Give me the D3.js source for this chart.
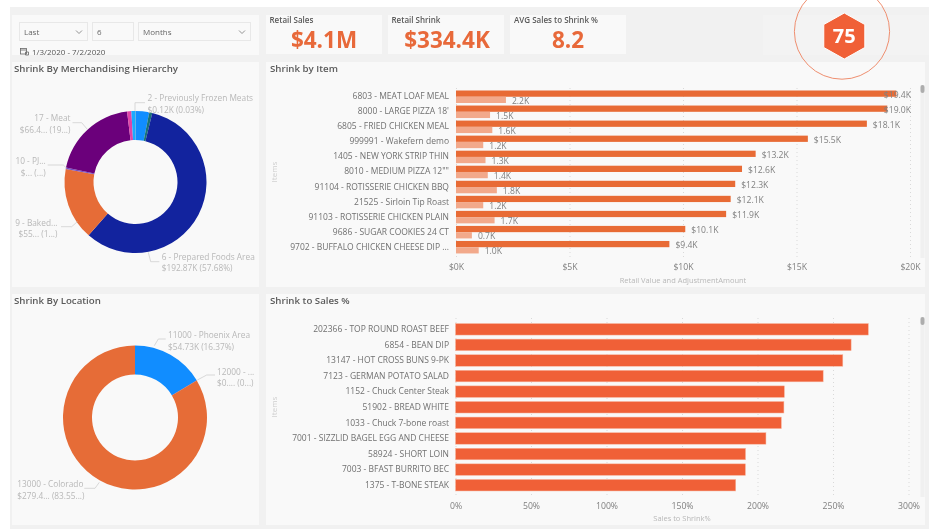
<!DOCTYPE html>
<html>
<head>
<meta charset="utf-8">
<script src="https://cdn.jsdelivr.net/npm/d3@7"></script>
<style>
  html, body { margin: 0; padding: 0; background: #fff; overflow: hidden; }
  svg { display: block; filter: blur(0.5px); }
  text { font-family: "Open Sans", sans-serif; }
</style>
</head>
<body>
<svg width="929" height="529"></svg>
<script>
// data
const itemNames = ['6803 - MEAT LOAF MEAL', "8000 - LARGE PIZZA 18'", '6805 - FRIED CHICKEN MEAL', '999991 - Wakefern demo',
    '1405 - NEW YORK STRIP THIN', '8010 - MEDIUM PIZZA 12""', '91104 - ROTISSERIE CHICKEN BBQ', '21525 - Sirloin Tip Roast',
    '91103 - ROTISSERIE CHICKEN PLAIN', '9686 - SUGAR COOKIES 24 CT', '9702 - BUFFALO CHICKEN CHEESE DIP ...'];
const retailValues = [19.4, 19.0, 18.1, 15.5, 13.2, 12.6, 12.3, 12.1, 11.9, 10.1, 9.4];
const adjustmentValues = [2.2, 1.5, 1.6, 1.2, 1.3, 1.4, 1.8, 1.2, 1.7, 0.7, 1.0];
const retailTicks = [0, 5, 10, 15, 20];

const pctNames = ['202366 - TOP ROUND ROAST BEEF', '6854 - BEAN DIP', '13147 - HOT CROSS BUNS 9-PK', '7123 - GERMAN POTATO SALAD',
    '1152 - Chuck Center Steak', '51902 - BREAD WHITE', '1033 - Chuck 7-bone roast', '7001 - SIZZLID BAGEL EGG AND CHEESE',
    '58924 - SHORT LOIN', '7003 - BFAST BURRITO BEC', '1375 - T-BONE STEAK'];
const pctValues = [273.4, 262, 256.5, 243.5, 217.8, 217.5, 215.8, 205.6, 192.1, 192, 185.6];
const pctTicks = [0, 50, 100, 150, 200, 250, 300];

const hierarchyValues = [10.4, 2.3, 192.87, 55.1, 1.0, 66.4, 3.2, 3.0, 0.12];
const hierarchyColors = ['#118dff', '#197278', '#12239e', '#e66c37', '#744ec2', '#6b007b', '#e044a7', '#1aabff', '#a08a60'];
const locationValues = [54.73, 0.09, 279.4];
const locationColors = ['#118dff', '#12239e', '#e66c37'];

const cardTitles = ['Retail Sales', 'Retail Shrink', 'AVG Sales to Shrink %'];
const cardValues = ['$4.1M', '$334.4K', '8.2'];

const svg = d3.select('svg');
const DARK = '#e86b35', LIGHT = '#f2a98b', HOT = '#f06037';
const GREY_TITLE = '#5a5a5a', GREY_TICK = '#808080', GREY_SOFT = '#b8b8b8', GREY_FAINT = '#cfcfcf';

//* page background and panels
const panel = (x, y, w, h, fill = '#f9f9f9') => svg.append('rect')
    .attr('x', x).attr('y', y).attr('width', w).attr('height', h).attr('fill', fill);

panel(10, 7, 919, 522, '#f1f1f1');
panel(12, 15, 247, 40);
panel(266, 15, 116, 39);
panel(388, 15, 116, 39);
panel(510, 15, 116, 39);
panel(763, 15, 166, 40, '#f3f3f3');
panel(12, 62, 247, 225);
panel(266, 62, 659, 225);
panel(12, 294, 247, 231);
panel(266, 294, 659, 231);

const label = (x, y, text, size, color, anchor = 'start', weight = 400) => svg.append('text')
    .attr('x', x).attr('y', y)
    .attr('dy', '0.35em')
    .attr('text-anchor', anchor)
    .style('font-size', `${size}px`)
    .style('font-weight', weight)
    .style('fill', color)
    .text(text);

//* filter controls
const dropdown = (x, w, text, chevron) => {
    svg.append('rect').attr('x', x + 0.5).attr('y', 22.5).attr('width', w).attr('height', 18)
        .attr('fill', 'none').attr('stroke', '#e8e8e8');
    label(x + 5, 32, text, 8, '#666');
    if (chevron) {
        svg.append('path')
            .attr('d', `M${x + w - 11},30.5 l3,3 l3,-3`)
            .attr('fill', 'none').attr('stroke', '#777').attr('stroke-width', 0.8);
    }
};
dropdown(19, 68, 'Last', true);
dropdown(92, 41, '6', false);
dropdown(138, 112, 'Months', true);
svg.append('rect').attr('x', 20.5).attr('y', 48.5).attr('width', 6).attr('height', 5.5)
    .attr('fill', 'none').attr('stroke', '#666').attr('stroke-width', 0.8);
svg.append('path').attr('d', 'M20.5,50 h6 M25.5,52 h3 v3 h-3 z')
    .attr('fill', 'none').attr('stroke', '#666').attr('stroke-width', 0.8);
label(32, 52, '1/3/2020 - 7/2/2020', 8, '#555');

//* KPI cards
[269.5, 391.5, 514].forEach((x, i) => {
    label(x, 20, cardTitles[i], 8, GREY_TITLE, 'start', 600);
});
[324, 447, 568].forEach((x, i) => {
    label(x, 40.5, cardValues[i], 22.5, '#e8693a', 'middle', 700);
});

//* score badge
svg.append('circle').attr('cx', 842).attr('cy', 31.6).attr('r', 47.6)
    .attr('fill', 'none').attr('stroke', '#ef8f70').attr('stroke-width', 1);
const hexPts = d3.range(6).map(i => {
    const a = Math.PI / 3 * i;
    return [844.3 + 23.7 * Math.sin(a), 36 - 23 * Math.cos(a)];
});
svg.append('polygon').attr('points', hexPts.join(' '))
    .attr('fill', HOT).attr('stroke', '#fff').attr('stroke-width', 1).attr('stroke-linejoin', 'round');
label(844.3, 36, '75', 20, '#fff', 'middle', 700);

//* panel titles
label(14, 69, 'Shrink By Merchandising Hierarchy', 9.7, GREY_TITLE, 'start', 600);
label(270, 69, 'Shrink by Item', 9.7, GREY_TITLE, 'start', 600);
label(14, 301, 'Shrink By Location', 9.7, GREY_TITLE, 'start', 600);
label(270, 301, 'Shrink to Sales %', 9.7, GREY_TITLE, 'start', 600);

//* donut helper
const donut = (values, colors, cx, cy, inner, outer) => {
    const pie = d3.pie().sort(null).value(d => d);
    const arc = d3.arc().innerRadius(inner).outerRadius(outer);
    svg.append('g')
        .attr('transform', `translate(${cx},${cy})`)
        .selectAll('path').data(pie(values))
        .enter().append('path')
        .attr('d', arc)
        .attr('fill', (d, i) => colors[i]);
};
donut(hierarchyValues, hierarchyColors, 135.5, 182, 42, 71);
donut(locationValues, locationColors, 135, 417.5, 43, 72);

//* donut callouts: leader line, then the two text rows
const callout = (points, x, y1, y2, line1, line2, anchor) => {
    svg.append('path').attr('d', d3.line()(points))
        .attr('fill', 'none').attr('stroke', GREY_FAINT).attr('stroke-width', 0.8);
    label(x, y1, line1, 8.3, GREY_SOFT, anchor);
    label(x, y2, line2, 8.3, GREY_SOFT, anchor);
};
callout([[135, 111], [135, 102.7], [145, 102.7]], 147.5, 98, 110, '2 - Previously Frozen Meats', '$0.12K (0.03%)', 'start');
callout([[72.5, 122.7], [81.7, 122.7], [87.3, 129.3]], 70.5, 118, 130, '17 - Meat', '$66.4... (19...)', 'end');
callout([[47.7, 165], [63.3, 165], [66.7, 168.3]], 45.7, 161, 173, '10 - PJ...', '$... (...)', 'end');
callout([[61, 226.7], [71.7, 226.7], [77.3, 221.7]], 57.5, 222.7, 234, '9 - Baked...', '$55... (1...)', 'end');
callout([[148.3, 252.3], [150.7, 261.7], [159.3, 261.7]], 161.7, 256.7, 268, '6 - Prepared Foods Area', '$192.87K (57.68%)', 'start');
callout([[154.3, 345.7], [158.3, 339], [165.7, 339]], 168, 335, 346.7, '11000 - Phoenix Area', '$54.73K (16.37%)', 'start');
callout([[197.3, 380], [206.7, 375], [215, 375]], 217, 371.7, 383.3, '12000 - ...', '$0.... (0...)', 'start');
callout([[84.3, 488.3], [95, 488.3], [99.3, 482.3]], 17.3, 484, 495.7, '13000 - Colorado', '$279.4... (83.55...)', 'start');

//* shared axes for the two bar panels
const drawAxes = (xScale, yScale, ticks, fmt, gridTop, axisY, gridBottom, xTitle, xTitleY, yTitleY) => {
    const xAxis = d3.axisBottom(xScale)
        .tickValues(ticks)
        .tickFormat(fmt)
        .tickSize(0)
        .tickPadding(0);
    const xAxisG = svg.append('g').attr('transform', `translate(0,${axisY})`).call(xAxis);
    xAxisG.select('.domain').remove();
    xAxisG.selectAll('text').attr('dy', '0.35em').attr('y', 0)
        .style('font-size', '8.7px').style('fill', GREY_TICK).style('font-family', '"Open Sans", sans-serif');

    const grid = d3.axisBottom(xScale).tickValues(ticks).tickSize(gridBottom - gridTop).tickFormat('');
    const gridG = svg.append('g').attr('transform', `translate(0,${gridTop})`).call(grid);
    gridG.select('.domain').remove();
    gridG.selectAll('line').attr('stroke', '#d9d9d9').attr('stroke-width', 1).attr('stroke-dasharray', '1 3');

    const yAxis = d3.axisLeft(yScale).tickSize(0).tickPadding(0);
    const yAxisG = svg.append('g').attr('transform', 'translate(449,0)').call(yAxis);
    yAxisG.select('.domain').remove();
    yAxisG.selectAll('text')
        .style('font-size', '8.5px').style('fill', '#707070').style('font-family', '"Open Sans", sans-serif');

    label((xScale.range()[0] + xScale.range()[1]) / 2, xTitleY, xTitle, 7.5, GREY_SOFT, 'middle');
    svg.append('text')
        .attr('transform', `translate(274,${yTitleY}) rotate(-90)`)
        .attr('dy', '0.35em')
        .attr('text-anchor', 'middle')
        .style('font-size', '8px').style('fill', GREY_FAINT)
        .text('Items');
};

const scrollbar = (x, top, bottom) => {
    panel(x - 2, top, 4, bottom - top, '#f0f0f0');
    svg.append('rect').attr('x', x - 2).attr('y', top).attr('width', 4).attr('height', 8).attr('rx', 2).attr('fill', '#adadad');
};

//* Shrink by Item
const xItem = d3.scaleLinear().domain([0, 20]).range([456, 910]);
const yItem = d3.scaleBand().domain(itemNames).range([89, 254.5]);
drawAxes(xItem, yItem, retailTicks, d => `$${d}K`, 88, 267, 260, 'Retail Value and AdjustmentAmount', 280, 172);

const subItem = d3.scaleBand().domain(['retail', 'adjustment']).range([1.5, 14]);
svg.append('g').selectAll('rect').data(itemNames)
    .enter().append('rect')
    .attr('x', xItem(0))
    .attr('y', d => yItem(d) + subItem('retail'))
    .attr('width', (d, i) => xItem(retailValues[i]) - xItem(0))
    .attr('height', subItem.bandwidth())
    .attr('fill', DARK);
svg.append('g').selectAll('rect').data(itemNames)
    .enter().append('rect')
    .attr('x', xItem(0))
    .attr('y', d => yItem(d) + subItem('adjustment'))
    .attr('width', (d, i) => xItem(adjustmentValues[i]) - xItem(0))
    .attr('height', subItem.bandwidth())
    .attr('fill', LIGHT);

itemNames.forEach((name, i) => {
    const right = xItem(retailValues[i]) + 6;
    const tooLong = right + 26 > 911;
    label(tooLong ? 911 : right, yItem(name) + subItem('retail') + subItem.bandwidth() / 2 + 1,
        `$${retailValues[i].toFixed(1)}K`, 8.6, GREY_TICK, tooLong ? 'end' : 'start');
    label(xItem(adjustmentValues[i]) + 6, yItem(name) + subItem('adjustment') + subItem.bandwidth() / 2 + 1,
        `${adjustmentValues[i].toFixed(1)}K`, 8.6, GREY_TICK);
});
scrollbar(922.5, 85, 258);

//* Shrink to Sales %
const xPct = d3.scaleLinear().domain([0, 300]).range([455.5, 908.5]);
const yPct = d3.scaleBand().domain(pctNames).range([321.5, 493]).paddingInner(0.26).paddingOuter(0.13);
drawAxes(xPct, yPct, pctTicks, d => `${d}%`, 318, 505.5, 497, 'Sales to Shrink%', 518, 407);

svg.append('g').selectAll('rect').data(pctNames)
    .enter().append('rect')
    .attr('x', xPct(0))
    .attr('y', d => yPct(d))
    .attr('width', (d, i) => xPct(pctValues[i]) - xPct(0))
    .attr('height', yPct.bandwidth())
    .attr('fill', HOT)
    .attr('stroke', '#f7b9a3')
    .attr('stroke-width', 0.5);
scrollbar(922.5, 317, 497);
</script>
</body>
</html>
